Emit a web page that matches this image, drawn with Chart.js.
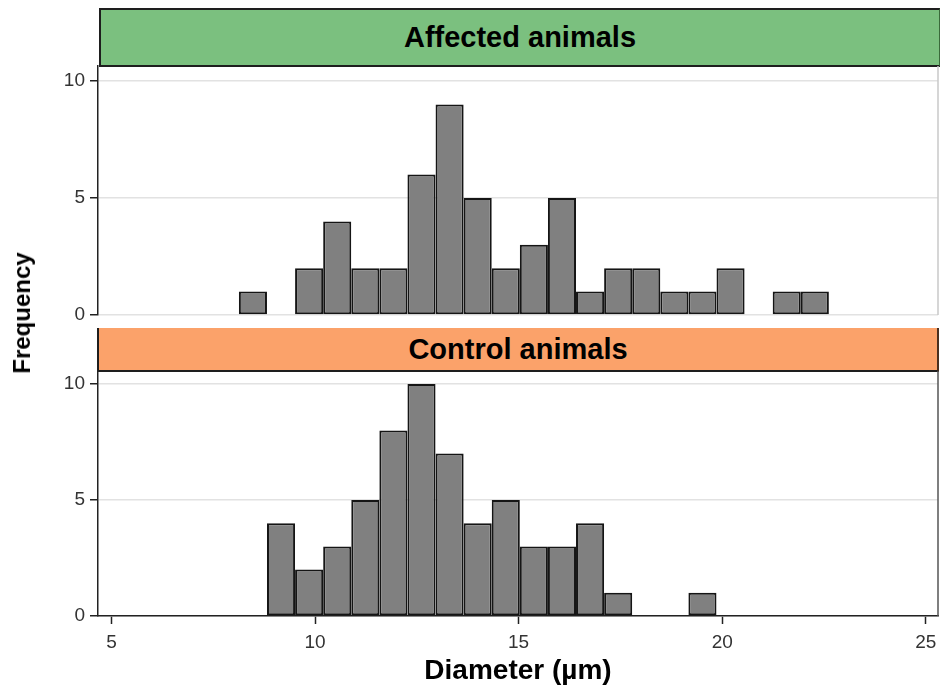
<!DOCTYPE html>
<html>
<head>
<meta charset="utf-8">
<script src="https://cdn.jsdelivr.net/npm/chart.js@4"></script>
<style>
  html, body { margin: 0; padding: 0; background: #fff; }
  body { width: 940px; height: 688px; position: relative; overflow: hidden; font-family: "Liberation Sans", Arial, sans-serif; }
  canvas { position: absolute; left: 0; }
  .strip { position: absolute; box-sizing: border-box; display: flex; align-items: center; justify-content: center; font-weight: bold; font-size: 29px; color: #000; }
  #stripA { left: 99px; top: 8px; width: 841px; height: 59px; background: #7bc07f; border: 2px solid #1e1e1e; border-right: 1px solid #3a6a3a; }
  #stripC { left: 97px; top: 328px; width: 842px; height: 44px; background: #fba26a; border-left: 2px solid #1e1e1e; border-bottom: 2px solid #1e1e1e; border-right: 2px solid #4a3020; }
  #ylab { position: absolute; left: 22px; top: 313px; transform: translate(-50%, -50%) rotate(-90deg); font-weight: bold; font-size: 24px; white-space: nowrap; }
</style>
</head>
<body>
<div class="strip" id="stripA">Affected animals</div>
<canvas id="top" width="940" height="262" style="top:60px"></canvas>
<div class="strip" id="stripC">Control animals</div>
<canvas id="bot" width="940" height="323" style="top:365px"></canvas>
<div id="ylab">Frequency</div>
<script>
// Histogram bin edges (µm)
const binEdges = [8.13, 8.82, 9.51, 10.20, 10.89, 11.58, 12.27, 12.96, 13.65, 14.34, 15.03,
                  15.72, 16.41, 17.10, 17.79, 18.48, 19.17, 19.86, 20.55, 21.24, 21.93, 22.62];
// Counts per bin
const affectedCounts = [1, 0, 2, 4, 2, 2, 6, 9, 5, 2, 3, 5, 1, 2, 2, 1, 1, 2, 0, 1, 1];
const controlCounts  = [0, 4, 2, 3, 5, 8, 10, 7, 4, 5, 3, 3, 4, 1, 0, 0, 1, 0, 0, 0, 0];
// Axis ticks
const xTicks = [5, 10, 15, 20, 25];
const yTicks = [0, 5, 10];
const xTitle = "Diameter (µm)";

const FONT = "'Liberation Sans', Arial, sans-serif";
const binCentres = binEdges.slice(0, -1).map((e, i) => (e + binEdges[i + 1]) / 2);
const toPoints = counts => counts.map((c, i) => ({ x: binCentres[i], y: c }));

const frame = {
  id: 'frame',
  afterDraw(chart, args, opts) {
    const { ctx, chartArea: a } = chart;
    ctx.save();
    ctx.strokeStyle = opts.color;
    ctx.lineWidth = opts.width;
    ctx.beginPath();
    ctx.moveTo(a.right, a.top);
    ctx.lineTo(a.right, a.bottom);
    ctx.stroke();
    ctx.restore();
  }
};

function makeChart(id, counts, yMax, showX, frameColor, pad) {
  return new Chart(document.getElementById(id), {
    type: 'bar',
    data: {
      datasets: [{
        data: toPoints(counts),
        backgroundColor: '#808080',
        borderColor: '#151515',
        borderWidth: 2,
        borderSkipped: false,
        barPercentage: 1,
        categoryPercentage: 1,
        inflateAmount: 0
      }]
    },
    plugins: [frame],
    options: {
      responsive: false,
      animation: false,
      devicePixelRatio: 1,
      layout: { padding: pad },
      plugins: {
        legend: { display: false },
        tooltip: { enabled: false },
        frame: { color: frameColor, width: 1.5 }
      },
      scales: {
        x: {
          type: 'linear',
          offset: false,
          display: showX,
          min: 4.67,
          max: 25.3,
          afterBuildTicks: s => { s.ticks = xTicks.map(v => ({ value: v })); },
          ticks: { font: { family: FONT, size: 19 }, color: '#333', padding: 7, maxRotation: 0 },
          grid: { offset: false, drawOnChartArea: false, drawTicks: true, tickLength: 8, tickColor: '#222', tickWidth: 1.5 },
          border: { display: true, color: '#222', width: 1.5 },
          title: {
            display: showX, text: xTitle,
            font: { family: FONT, size: 28, weight: 'bold' }, color: '#000',
            padding: { top: 0, bottom: 0 }
          },
          afterFit: s => { if (showX) s.height = 72; s.paddingLeft = 0; s.paddingRight = 0; }
        },
        y: {
          min: 0,
          max: yMax,
          afterBuildTicks: s => { s.ticks = yTicks.map(v => ({ value: v })); },
          afterFit: s => { s.width = 98; s.paddingTop = 0; s.paddingBottom = 0; },
          ticks: { font: { family: FONT, size: 19 }, color: '#333', padding: 5 },
          grid: { color: '#e2e2e2', lineWidth: 1.5, tickColor: '#222', tickLength: 8, tickWidth: 1.5 },
          border: { display: true, color: '#222', width: 1.5 }
        }
      }
    }
  });
}

makeChart('top', affectedCounts, 10.64, false, '#c8c8c8', { top: 6, bottom: 7, right: 2, left: 0 });
makeChart('bot', controlCounts, 10.56, true, '#555555', { top: 6, bottom: 0, right: 2, left: 0 });
</script>
</body>
</html>
